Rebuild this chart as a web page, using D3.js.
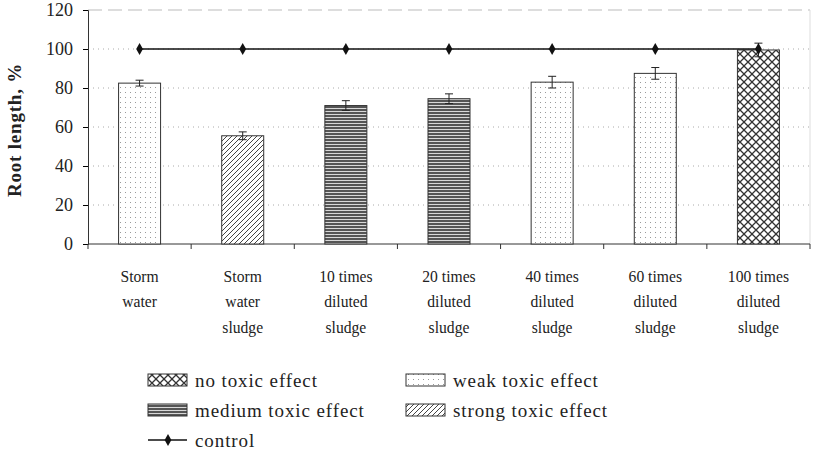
<!DOCTYPE html>
<html>
<head>
<meta charset="utf-8">
<script src="https://cdn.jsdelivr.net/npm/d3@7"></script>
<style>
body { margin: 0; background: #fff; }
text { font-family: "Liberation Serif", "Times New Roman", serif; fill: #222; }
</style>
</head>
<body>
<svg width="813" height="454"></svg>
<script>
// data
var categories = [["Storm", "water"], ["Storm", "water", "sludge"], ["10 times", "diluted", "sludge"],
    ["20 times", "diluted", "sludge"], ["40 times", "diluted", "sludge"], ["60 times", "diluted", "sludge"],
    ["100 times", "diluted", "sludge"]];
var rootLength = [82.5, 55.5, 71, 74.5, 83, 87.5, 99.5];
var errors = [1.5, 2, 2.5, 2.5, 3, 3, 3.5];
var effect = ["weak", "strong", "medium", "medium", "weak", "weak", "none"];
var control = [100, 100, 100, 100, 100, 100, 100];
var yTicks = [0, 20, 40, 60, 80, 100, 120];

var margins = {top: 10, right: 3, bottom: 210, left: 88};
var screen = {width: 813, height: 454};
var width = screen.width - margins.left - margins.right;
var height = screen.height - margins.top - margins.bottom;

var svg = d3.select("svg");
var defs = svg.append("defs");

// patterns
var p = defs.append("pattern").attr("id", "weak").attr("patternUnits", "userSpaceOnUse")
    .attr("width", 5).attr("height", 5);
p.append("rect").attr("width", 5).attr("height", 5).attr("fill", "#fff");
p.append("rect").attr("x", 2).attr("y", 2).attr("width", 1).attr("height", 1).attr("fill", "#999");

p = defs.append("pattern").attr("id", "strong").attr("patternUnits", "userSpaceOnUse")
    .attr("width", 5).attr("height", 5);
p.append("rect").attr("width", 5).attr("height", 5).attr("fill", "#fff");
p.append("path").attr("d", "M-1,6 L6,-1 M-1,1 L1,-1 M4,6 L6,4").attr("stroke", "#444").attr("stroke-width", 1);

p = defs.append("pattern").attr("id", "medium").attr("patternUnits", "userSpaceOnUse")
    .attr("width", 4).attr("height", 3);
p.append("rect").attr("width", 4).attr("height", 3).attr("fill", "#d8d8d8");
p.append("rect").attr("y", 0).attr("width", 4).attr("height", 2).attr("fill", "#555");

p = defs.append("pattern").attr("id", "none").attr("patternUnits", "userSpaceOnUse")
    .attr("width", 8).attr("height", 8);
p.append("rect").attr("width", 8).attr("height", 8).attr("fill", "#fff");
p.append("path").attr("d", "M0,0 L8,8 M8,0 L0,8").attr("stroke", "#333").attr("stroke-width", 1.3);

var g = svg.append("g").attr("transform", "translate(" + margins.left + "," + margins.top + ")");

var xScale = d3.scaleBand().domain(d3.range(categories.length)).range([0, width]);
var yScale = d3.scaleLinear().domain([0, 120]).range([height, 0]);

// grid lines
g.selectAll(".grid").data(yTicks.filter(function(d) { return d > 0 && d < 120; }))
    .enter().append("line")
    .attr("x1", 0).attr("x2", width)
    .attr("y1", function(d) { return yScale(d); }).attr("y2", function(d) { return yScale(d); })
    .attr("stroke", "#aaa").attr("stroke-dasharray", "1,4");
// top border
g.append("line").attr("x1", 0).attr("x2", width).attr("y1", 0).attr("y2", 0)
    .attr("stroke", "#bbb").attr("stroke-dasharray", "14,6");
g.append("line").attr("x1", width).attr("x2", width).attr("y1", 0).attr("y2", height)
    .attr("stroke", "#ddd");

// axes
var yAxis = d3.axisLeft(yScale).tickValues(yTicks).tickSize(5).tickPadding(10);
var ya = g.append("g").call(yAxis);
ya.selectAll("text").style("font-size", "18px").style("font-family", "Liberation Serif").attr("fill", "#222");
ya.select(".domain").attr("stroke", "#333");

var xa = g.append("g").attr("transform", "translate(0," + height + ")");
xa.append("line").attr("x1", 0).attr("x2", width).attr("stroke", "#333");
xa.selectAll(".tk").data(d3.range(categories.length + 1)).enter().append("line")
    .attr("x1", function(d) { return d * xScale.step(); })
    .attr("x2", function(d) { return d * xScale.step(); })
    .attr("y1", 0).attr("y2", 5).attr("stroke", "#333");

var labels = xa.selectAll(".lbl").data(categories).enter().append("text")
    .attr("text-anchor", "middle")
    .attr("transform", function(d, i) { return "translate(" + (xScale(i) + xScale.bandwidth() / 2) + ",0) scale(0.92,1)"; })
    .style("font-size", "17px");
labels.selectAll("tspan").data(function(d) { return d; }).enter().append("tspan")
    .attr("x", 0).attr("y", function(d, i) { return 38 + i * 25.5; })
    .text(function(d) { return d; });

// bars
var barW = 42;
g.selectAll(".bar").data(rootLength).enter().append("rect")
    .attr("x", function(d, i) { return xScale(i) + xScale.bandwidth() / 2 - barW / 2; })
    .attr("y", function(d) { return yScale(d); })
    .attr("width", barW)
    .attr("height", function(d) { return height - yScale(d); })
    .attr("fill", function(d, i) { return "url(#" + effect[i] + ")"; })
    .attr("stroke", "#333").attr("stroke-width", 1);

// error bars
var eb = g.selectAll(".err").data(rootLength).enter().append("g")
    .attr("transform", function(d, i) { return "translate(" + (xScale(i) + xScale.bandwidth() / 2) + ",0)"; });
eb.append("line").attr("y1", function(d, i) { return yScale(d + errors[i]); })
    .attr("y2", function(d, i) { return yScale(d - errors[i]); }).attr("stroke", "#222");
eb.append("line").attr("x1", -4).attr("x2", 4)
    .attr("y1", function(d, i) { return yScale(d + errors[i]); })
    .attr("y2", function(d, i) { return yScale(d + errors[i]); }).attr("stroke", "#222");
eb.append("line").attr("x1", -4).attr("x2", 4)
    .attr("y1", function(d, i) { return yScale(d - errors[i]); })
    .attr("y2", function(d, i) { return yScale(d - errors[i]); }).attr("stroke", "#222");

// control line
var line = d3.line()
    .x(function(d, i) { return xScale(i) + xScale.bandwidth() / 2; })
    .y(function(d) { return yScale(d); });
g.append("path").datum(control).attr("d", line).attr("fill", "none").attr("stroke", "#111").attr("stroke-width", 1.5);
var diamond = d3.symbol().type(d3.symbolDiamond).size(40);
g.selectAll(".mk").data(control).enter().append("path")
    .attr("d", diamond)
    .attr("transform", function(d, i) { return "translate(" + (xScale(i) + xScale.bandwidth() / 2) + "," + yScale(d) + ")"; })
    .attr("fill", "#111");

// y label
svg.append("text").attr("transform", "translate(21," + (margins.top + 120) + ") rotate(-90)")
    .attr("text-anchor", "middle").style("font-size", "19px").style("font-weight", "bold")
    .style("letter-spacing", "0.8px")
    .text("Root length, %");

// legend
var legendItems = [
    {key: "none", label: "no toxic effect", x: 148, y: 387},
    {key: "weak", label: "weak toxic effect", x: 406, y: 387},
    {key: "medium", label: "medium toxic effect", x: 148, y: 417},
    {key: "strong", label: "strong toxic effect", x: 406, y: 417}
];
var lg = svg.append("g").attr("id", "legend");
var items = lg.selectAll("g").data(legendItems).enter().append("g")
    .attr("transform", function(d) { return "translate(" + d.x + "," + d.y + ")"; });
items.append("rect").attr("x", 0).attr("y", -13).attr("width", 39).attr("height", 12)
    .attr("fill", function(d) { return "url(#" + d.key + ")"; }).attr("stroke", "#333");
items.append("text").attr("x", 47).attr("y", 0).style("font-size", "19px")
    .style("letter-spacing", "0.9px")
    .text(function(d) { return d.label; });

var cl = lg.append("g").attr("transform", "translate(148,447)");
cl.append("line").attr("x1", 0).attr("x2", 39).attr("y1", -7).attr("y2", -7).attr("stroke", "#111").attr("stroke-width", 1.5);
cl.append("path").attr("d", diamond).attr("transform", "translate(20,-7)").attr("fill", "#111");
cl.append("text").attr("x", 47).attr("y", 0).style("font-size", "19px").style("letter-spacing", "0.9px").text("control");
</script>
</body>
</html>
